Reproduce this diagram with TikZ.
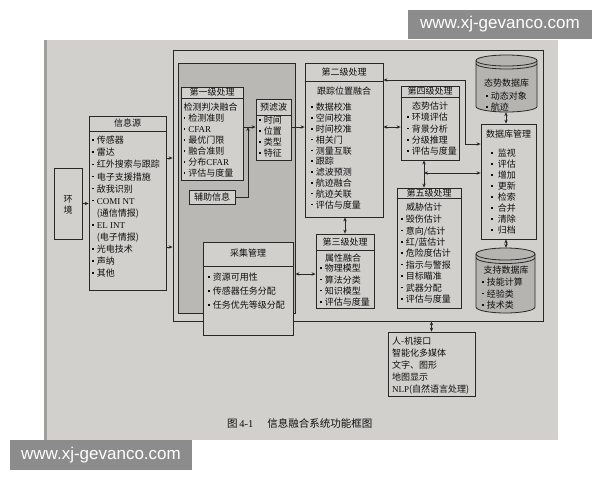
\documentclass[tikz,border=0pt]{standalone}
\usepackage{fontspec}
\setmainfont{Noto Sans CJK SC}
\newfontfamily\lat{Liberation Serif}
\newfontfamily\wmfont{Liberation Sans}
\usetikzlibrary{arrows.meta}
\definecolor{pagebg}{RGB}{210,208,205}
\definecolor{shade}{RGB}{186,184,181}
\definecolor{cylc}{RGB}{182,180,177}
\definecolor{edgec}{RGB}{160,158,155}
\definecolor{linec}{RGB}{40,40,40}
\definecolor{txtc}{RGB}{15,15,15}
\definecolor{wmgray}{RGB}{140,140,140}
\newcommand{\bu}{\raisebox{0.32em}{\rule{1.6pt}{1.6pt}}\hspace{3.1pt}}
\newcommand{\bi}{\hspace{4.7pt}}
\tikzset{
  boxnode/.style={draw=linec, line width=0.8pt, fill=pagebg, inner sep=0pt},
  ghost/.style={inner sep=0pt},
  ttl/.style={inner sep=0pt, text=txtc, font=\fontsize{9}{10}\selectfont},
  lst/.style={inner sep=0pt, anchor=north west, align=left, text=txtc, font=\fontsize{9}{#1}\selectfont},
  arr/.style={draw=linec, line width=0.8pt, -{Stealth[length=4pt,width=3.4pt]}},
  dbl/.style={draw=linec, line width=0.8pt, {Stealth[length=4pt,width=3.4pt]}-{Stealth[length=4pt,width=3.4pt]}},
  sepline/.style={draw=linec, line width=0.8pt},
  wm/.style={fill=wmgray, text=white, inner sep=0pt, font=\wmfont\fontsize{17}{17}\selectfont}
}
\begin{document}
\begin{tikzpicture}[x=1pt,y=-1pt]
\useasboundingbox (0,0) rectangle (600,480);
\fill[white] (0,0) rectangle (600,480);
% page
\fill[pagebg] (44,40) rectangle (558,440);
\fill[edgec] (44,40) rectangle (47,440);

% helper coordinates
\coordinate (y80) at (0,80);
\coordinate (y127) at (0,127);
\coordinate (y144) at (0,144);
\coordinate (y158) at (0,158);
\coordinate (y247) at (0,247);
\coordinate (y274) at (0,274);
\coordinate (x424) at (424,0);
\coordinate (x506) at (506,0);
\coordinate (j1) at (248,127);
\coordinate (j2) at (424,173);
\coordinate (k1) at (465,80);
\coordinate (k2) at (465,144);

% frames
\node[draw=linec, line width=0.8pt, inner sep=0pt, minimum width=370pt, minimum height=271pt] (outer) at (358,185.5) {};
\node[draw=linec, line width=0.8pt, fill=shade, inner sep=0pt, minimum width=117pt, minimum height=250pt] (inner) at (236.5,188) {};

% boxes
\node[boxnode, minimum width=28pt, minimum height=71pt] (env) at (68,203.5) {};
\node[boxnode, minimum width=77pt, minimum height=174pt] (src) at (127.5,203) {};
\node[boxnode, minimum width=62pt, minimum height=93pt] (l1) at (212,133.5) {};
\node[boxnode, minimum width=35pt, minimum height=61pt] (pre) at (273.5,129.5) {};
\node[boxnode, minimum width=46pt, minimum height=14pt] (aux) at (212,197) {};
\node[boxnode, minimum width=90pt, minimum height=93pt] (acq) at (248,288.5) {};
\node[boxnode, minimum width=78pt, minimum height=154pt] (l2) at (344,140) {};
\node[boxnode, minimum width=58pt, minimum height=74pt] (l3) at (345,271) {};
\node[boxnode, minimum width=58pt, minimum height=74pt] (l4) at (430,123) {};
\node[boxnode, minimum width=64pt, minimum height=120pt] (l5) at (429,248) {};
\node[boxnode, minimum width=55pt, minimum height=115pt] (dbm) at (508.5,181.5) {};
\node[boxnode, minimum width=87pt, minimum height=64pt] (hmi) at (431.5,364) {};
\node[ghost, minimum width=61pt, minimum height=57pt] (sdb) at (506.5,83.5) {};
\node[ghost, minimum width=59pt, minimum height=65pt] (kdb) at (505.5,280.5) {};

% title separators
\draw[sepline] (src.west |- 0,131) -- (src.east |- 0,131);
\draw[sepline] (l1.west |- 0,98) -- (l1.east |- 0,98);
\draw[sepline] (pre.west |- 0,115) -- (pre.east |- 0,115);
\draw[sepline] (acq.west |- 0,266) -- (acq.east |- 0,266);
\draw[sepline] (l2.west |- 0,81) -- (l2.east |- 0,81);
\draw[sepline] (l3.west |- 0,250) -- (l3.east |- 0,250);
\draw[sepline] (l4.west |- 0,97) -- (l4.east |- 0,97);
\draw[sepline] (l5.west |- 0,198) -- (l5.east |- 0,198);

% cylinders
\filldraw[fill=cylc, draw=linec, line width=0.8pt] (476,60.5) -- (476,106.5)
  arc[start angle=180, end angle=360, x radius=30.5pt, y radius=5.5pt] -- (537,60.5)
  arc[start angle=0, end angle=180, x radius=30.5pt, y radius=5.5pt] -- cycle;
\draw[linec, line width=0.8pt] (476,60.5) arc[start angle=180, end angle=360, x radius=30.5pt, y radius=5.5pt];
\draw[linec, line width=0.8pt] (476,63.5) arc[start angle=180, end angle=360, x radius=30.5pt, y radius=5.5pt];
\filldraw[fill=cylc, draw=linec, line width=0.8pt] (476,254) -- (476,307)
  arc[start angle=180, end angle=360, x radius=29.5pt, y radius=6pt] -- (535,254)
  arc[start angle=0, end angle=180, x radius=29.5pt, y radius=6pt] -- cycle;
\draw[linec, line width=0.8pt] (476,254) arc[start angle=180, end angle=360, x radius=29.5pt, y radius=6pt];
\draw[linec, line width=0.8pt] (476,257.5) arc[start angle=180, end angle=360, x radius=29.5pt, y radius=6pt];

% texts
\node[ttl, align=center, font=\fontsize{9}{11}\selectfont] (tenv) at (68,204.5) {环\\境};
\node[ttl] (tsrc) at (127.5,123.5) {信息源};
\node[lst=12.1] (isrc) at (92,136) {\bu 传感器\\\bu 雷达\\\bu 红外搜索与跟踪\\\bu 电子支援措施\\\bu 敌我识别\\\bu {\lat COMI NT}\\\bi(通信情报)\\\bu {\lat EL INT}\\\bi(电子情报)\\\bu 光电技术\\\bu 声纳\\\bu 其他};
\node[ttl] (tl1) at (212,92.5) {第一级处理};
\node[lst=11] (il1) at (183.5,103) {检测判决融合\\\bu 检测准则\\\bu {\lat CFAR}\\\bu 最优门限\\\bu 融合准则\\\bu 分布{\lat CFAR}\\\bu 评估与度量};
\node[ttl] (tpre) at (273.5,107) {预滤波};
\node[lst=11] (ipre) at (259,116) {\bu 时间\\\bu 位置\\\bu 类型\\\bu 特征};
\node[ttl] (taux) at (212,197) {辅助信息};
\node[ttl] (tacq) at (248,253.5) {采集管理};
\node[lst=14] (iacq) at (208,273) {\bu 资源可用性\\\bu 传感器任务分配\\\bu 任务优先等级分配};
\node[ttl] (tl2) at (344,72) {第二级处理};
\node[ttl] (sl2) at (344,91) {跟踪位置融合};
\node[lst=10.8] (il2) at (311,103) {\bu 数据校准\\\bu 空间校准\\\bu 时间校准\\\bu 相关门\\\bu 测量互联\\\bu 跟踪\\\bu 滤波预测\\\bu 航迹融合\\\bu 航迹关联\\\bu 评估与度量};
\node[ttl] (tl4) at (430,91.5) {第四级处理};
\node[ttl] (sl4) at (430,106.5) {态势估计};
\node[lst=11.3] (il4) at (407,113) {\bu 环境评估\\\bu 背景分析\\\bu 分级推理\\\bu 评估与度量};
\node[ttl] (tl5) at (429,193) {第五级处理};
\node[ttl, anchor=west] (sl5) at (406,207) {威胁估计};
\node[lst=11.4] (il5) at (401,215) {\bu 毁伤估计\\\bu 意向/估计\\\bu 红/蓝估计\\\bu 危险度估计\\\bu 指示与警报\\\bu 目标瞄准\\\bu 武器分配\\\bu 评估与度量};
\node[ttl] (tl3) at (345,242.5) {第三级处理};
\node[ttl, anchor=west] (sl3) at (325,258) {属性融合};
\node[lst=11.3] (il3) at (320,264) {\bu 物理模型\\\bu 算法分类\\\bu 知识模型\\\bu 评估与度量};
\node[ttl] (tsdb) at (506.5,83) {态势数据库};
\node[lst=11] (isdb) at (486,92) {\bu 动态对象\\\bu 航迹};
\node[ttl] (tdbm) at (508.5,134) {数据库管理};
\node[lst=11] (idbm) at (491,149) {\bu\hspace{2pt}监视\\\bu\hspace{2pt}评估\\\bu\hspace{2pt}增加\\\bu\hspace{2pt}更新\\\bu\hspace{2pt}检索\\\bu\hspace{2pt}合并\\\bu\hspace{2pt}清除\\\bu\hspace{2pt}归档};
\node[ttl] (tkdb) at (506,270) {支持数据库};
\node[lst=11.5] (ikdb) at (482,278) {\bu 技能计算\\\bu 经验类\\\bu 技术类};
\node[lst=12] (ihmi) at (392,337) {人-机接口\\智能化多媒体\\文字、图形\\地图显示\\{\lat NLP}(自然语言处理)};
\node[inner sep=0pt, anchor=west, text=txtc, font=\fontsize{10.5}{12}\selectfont] (cap) at (227,423) {图\,{\lat 4-1}\hspace{14pt}信息融合系统功能框图};

% connectors
\draw[arr] (env.east) -- (src.west |- env.east);
\draw[arr] (src.east |- y158) -- (outer.west |- y158);
\draw[arr] (src.east |- y247) -- (outer.west |- y247);
\draw[arr] (l1.east |- y127) -- (pre.west |- y127);
\draw[arr] (aux.east) -| (j1);
\draw[arr] (pre.east |- y127) -- (l2.west |- y127);
\draw[dbl] (l2.east |- y127) -- (l4.west |- y127);
\draw[dbl] (l2.east |- y80) -- (k1) -- (k2) -- (dbm.west |- y144);
\draw[dbl] (sdb.south -| x506) -- (dbm.north -| x506);
\draw[dbl] (dbm.south -| x506) -- (kdb.north -| x506);
\draw[dbl] (l4.south -| x424) -- (l5.north -| x424);
\draw[dbl] (j2) -- (dbm.west |- j2);
\draw[dbl] (l2.south -| l3.north) -- (l3.north);
\draw[dbl] (inner.east |- y274) -- (l3.west |- y274);
\draw[dbl] (outer.south -| hmi.north) -- (hmi.north);

% watermarks
\node[wm, minimum width=184pt, minimum height=29pt] (wm1) at (500,24.5) {www.xj-gevanco.com};
\node[wm, minimum width=182pt, minimum height=30pt] (wm2) at (101,455) {www.xj-gevanco.com};
\end{tikzpicture}
\end{document}
